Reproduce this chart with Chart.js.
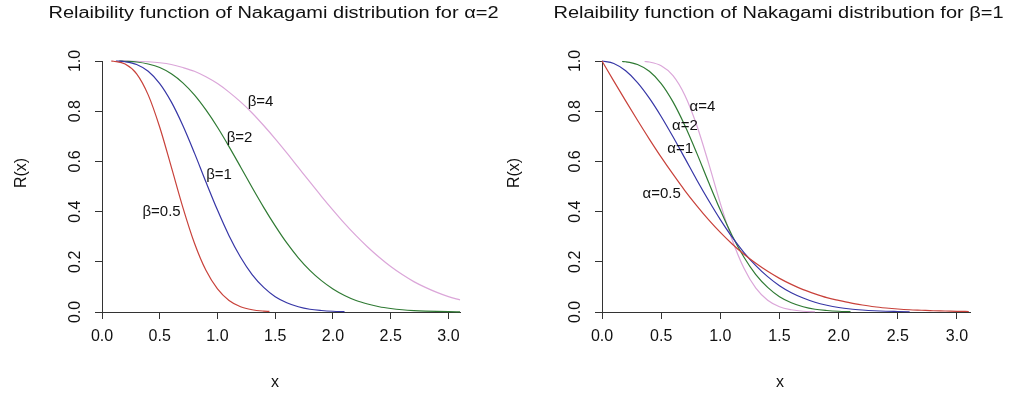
<!DOCTYPE html>
<html><head><meta charset="utf-8">
<script src="https://cdn.jsdelivr.net/npm/chart.js@4/dist/chart.umd.min.js"></script>
<style>
html,body{margin:0;padding:0;background:#fff;}
#wrap{position:relative;width:1009px;height:394px;overflow:hidden;}
.pane{position:absolute;top:0;height:394px;}
</style></head><body>
<div id="wrap">
<div class="pane" style="left:0;width:505px"><canvas id="c1" width="505" height="394"></canvas></div>
<div class="pane" style="left:505px;width:504px"><canvas id="c2" width="504" height="394"></canvas></div>
</div>
<script>
// ---------- data ----------
const xTicks = [0, 0.5, 1, 1.5, 2, 2.5, 3];
const yTicks = [0, 0.2, 0.4, 0.6, 0.8, 1.0];

// Left panel: alpha = 2, beta varies
const leftTitle = 'Relaibility function of Nakagami distribution for \u03B1=2';
const leftNames = ['\u03B2=0.5', '\u03B2=1', '\u03B2=2', '\u03B2=4'];
const lB05x = [0.08,0.1,0.2,0.3,0.4,0.5,0.6,0.7,0.8,0.9,1.0,1.1,1.2,1.3,1.4,1.45];
const lB05y = [1.000,0.999,0.988,0.949,0.865,0.736,0.578,0.417,0.275,0.166,0.092,0.046,0.021,0.009,0.0035,0.0021];
const lB1x = [0.12,0.2,0.3,0.4,0.5,0.6,0.7,0.8,0.9,1.0,1.1,1.2,1.3,1.4,1.5,1.6,1.7,1.8,1.9,2.0,2.1];
const lB1y = [1.000,0.997,0.986,0.959,0.910,0.837,0.743,0.634,0.518,0.406,0.304,0.218,0.149,0.098,0.061,0.037,0.021,0.011,0.006,0.003,0.0015];
const lB2x = [0.15,0.2,0.3,0.4,0.5,0.6,0.7,0.8,0.9,1.0,1.1,1.2,1.3,1.4,1.5,1.6,1.7,1.8,1.9,2.0,2.1,2.2,2.3,2.4,2.5,2.6,2.7,2.8,2.9,3.0,3.1];
const lB2y = [1.000,0.999,0.996,0.988,0.974,0.949,0.913,0.865,0.805,0.736,0.659,0.578,0.496,0.417,0.343,0.275,0.216,0.166,0.125,0.092,0.066,0.046,0.032,0.021,0.014,0.009,0.0057,0.0035,0.0021,0.0012,0.0007];
const lB4x = [0.15,0.2,0.3,0.4,0.5,0.6,0.7,0.8,0.9,1.0,1.1,1.2,1.3,1.4,1.5,1.6,1.7,1.8,1.9,2.0,2.1,2.2,2.3,2.4,2.5,2.6,2.7,2.8,2.9,3.0,3.1];
const lB4y = [1.000,1.000,0.999,0.997,0.993,0.986,0.974,0.959,0.937,0.910,0.876,0.837,0.793,0.743,0.690,0.634,0.576,0.518,0.461,0.406,0.353,0.304,0.259,0.218,0.181,0.149,0.121,0.098,0.078,0.061,0.048];
// curve label anchors (data coordinates)
const leftLabelX = [0.516, 1.014, 1.191, 1.373];
const leftLabelY = [0.400, 0.546, 0.693, 0.838];

// Right panel: beta = 1, alpha varies
const rightTitle = 'Relaibility function of Nakagami distribution for \u03B2=1';
const rightNames = ['\u03B1=0.5', '\u03B1=1', '\u03B1=2', '\u03B1=4'];
const rA05x = [0,0.1,0.2,0.3,0.4,0.5,0.6,0.7,0.8,0.9,1.0,1.1,1.2,1.3,1.4,1.5,1.6,1.7,1.8,1.9,2.0,2.1,2.2,2.3,2.4,2.5,2.6,2.7,2.8,2.9,3.0,3.1];
const rA05y = [1.000,0.920,0.841,0.764,0.689,0.617,0.549,0.484,0.424,0.368,0.317,0.271,0.230,0.194,0.162,0.134,0.110,0.089,0.072,0.057,0.046,0.036,0.028,0.021,0.016,0.012,0.009,0.007,0.005,0.004,0.0027,0.0019];
const rA1x = [0,0.1,0.2,0.3,0.4,0.5,0.6,0.7,0.8,0.9,1.0,1.1,1.2,1.3,1.4,1.5,1.6,1.7,1.8,1.9,2.0,2.1,2.2,2.3,2.4,2.5,2.6];
const rA1y = [1.000,0.990,0.961,0.914,0.852,0.779,0.698,0.613,0.527,0.445,0.368,0.298,0.237,0.185,0.141,0.105,0.077,0.056,0.039,0.027,0.018,0.012,0.008,0.005,0.003,0.002,0.001];
const rA2x = [0.17,0.2,0.3,0.4,0.5,0.6,0.7,0.8,0.9,1.0,1.1,1.2,1.3,1.4,1.5,1.6,1.7,1.8,1.9,2.0,2.1];
const rA2y = [0.998,0.997,0.986,0.959,0.910,0.837,0.743,0.634,0.518,0.406,0.304,0.218,0.149,0.098,0.061,0.037,0.021,0.011,0.006,0.003,0.0015];
const rA4x = [0.36,0.4,0.5,0.6,0.7,0.8,0.9,1.0,1.1,1.2,1.3,1.4,1.5,1.6,1.7,1.8];
const rA4y = [0.998,0.996,0.981,0.942,0.864,0.745,0.594,0.433,0.288,0.174,0.095,0.047,0.021,0.009,0.003,0.001];
const rightLabelX = [0.504, 0.661, 0.701, 0.849];
const rightLabelY = [0.470, 0.648, 0.741, 0.816];

// ---------- styling ----------
const colors = ['#c8413a', '#3636a6', '#2f7a33', '#dba6d9'];
const FONT = '"Liberation Sans", Arial, Helvetica, sans-serif';
const axisColor = '#333';

const zip = (xs, ys) => xs.map((v, i) => ({x: v, y: ys[i]}));

const rText = {
  id: 'rText',
  afterDraw(chart, args, o) {
    const {ctx, chartArea: ca, scales: {x, y}} = chart;
    ctx.save();
    ctx.fillStyle = '#111';
    ctx.textAlign = 'center';
    ctx.textBaseline = 'middle';
    // rotated y tick labels (R style, las=0)
    ctx.font = '16px ' + FONT;
    yTicks.forEach(v => {
      ctx.save();
      ctx.translate(ca.left - 26, y.getPixelForValue(v));
      ctx.rotate(-Math.PI / 2);
      ctx.fillText(v.toFixed(1), 0, 0);
      ctx.restore();
    });
    // curve labels
    ctx.font = '15px ' + FONT;
    o.names.forEach((n, i) => {
      ctx.fillText(n, x.getPixelForValue(o.lx[i]), y.getPixelForValue(o.ly[i]));
    });
    // title (slightly widened like the reference)
    const cx = (ca.left + ca.right) / 2 - 7.5;
    ctx.font = '16px ' + FONT;
    ctx.save();
    ctx.translate(cx, 14);
    ctx.scale(1.25, 1);
    ctx.fillText(o.title, 0, 0);
    ctx.restore();
    // axis titles
    ctx.font = '16px ' + FONT;
    ctx.fillText('x', cx + 1.5, 383);
    ctx.save();
    ctx.translate(o.ylabX, 173);
    ctx.rotate(-Math.PI / 2);
    ctx.fillText('R(x)', 0, 0);
    ctx.restore();
    ctx.restore();
  }
};

function makeChart(id, series, xMax, yWidth, padRight, textOpts) {
  return new Chart(document.getElementById(id), {
    type: 'line',
    data: {
      datasets: series.map((s, i) => ({
        data: zip(s[0], s[1]),
        borderColor: colors[i],
        borderWidth: 1.2,
        pointRadius: 0,
        fill: false,
        cubicInterpolationMode: 'monotone',
        clip: false
      }))
    },
    options: {
      responsive: false,
      animation: false,
      events: [],
      layout: {padding: {left: 0, top: 61, right: padRight, bottom: 0}},
      plugins: {legend: {display: false}, tooltip: {enabled: false}, rText: textOpts},
      scales: {
        x: {
          type: 'linear', min: 0, max: xMax,
          grid: {display: true, drawOnChartArea: false, drawTicks: true, tickLength: 7, color: axisColor, lineWidth: 1},
          border: {display: true, color: axisColor, width: 1},
          afterBuildTicks: sc => { sc.ticks = xTicks.map(v => ({value: v})); },
          ticks: {autoSkip: false, maxRotation: 0, minRotation: 0, padding: 8, color: '#111',
                  font: {family: FONT, size: 16}, callback: v => Number(v).toFixed(1)},
          afterFit: sc => { sc.height = 82; }
        },
        y: {
          type: 'linear', min: 0, max: 1,
          grid: {display: true, drawOnChartArea: false, drawTicks: true, tickLength: 7, color: axisColor, lineWidth: 1},
          border: {display: true, color: axisColor, width: 1},
          afterBuildTicks: sc => { sc.ticks = yTicks.map(v => ({value: v})); },
          ticks: {display: false},
          afterFit: sc => { sc.width = yWidth; }
        }
      }
    },
    plugins: [rText]
  });
}

makeChart('c1', [[lB05x, lB05y], [lB1x, lB1y], [lB2x, lB2y], [lB4x, lB4y]], 3.1, 102, 45,
  {names: leftNames, lx: leftLabelX, ly: leftLabelY, title: leftTitle, ylabX: 22});
makeChart('c2', [[rA05x, rA05y], [rA1x, rA1y], [rA2x, rA2y], [rA4x, rA4y]], 3.11, 97, 39,
  {names: rightNames, lx: rightLabelX, ly: rightLabelY, title: rightTitle, ylabX: 10});
</script>
</body></html>
